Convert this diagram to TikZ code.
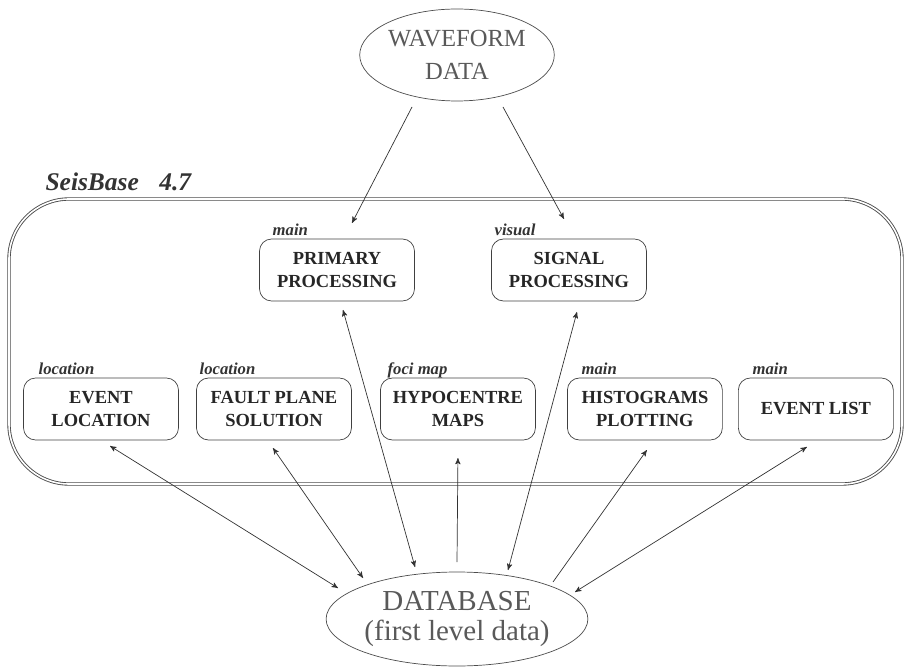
\documentclass[tikz,border=0pt]{standalone}
\usepackage{fontspec}
\setmainfont{Liberation Serif}
\usetikzlibrary{arrows,shapes,positioning,calc}

\begin{document}
\begin{tikzpicture}[->,>=stealth',semithick,auto,
x=0.02cm,y=-0.02cm,
node distance=3.46cm]

\tikzstyle{module}=[rectangle, rounded corners=0.24cm, minimum width=3.1cm, minimum height=1.24cm,
align=center, draw=black!75, thin, text=black!85, font=\fontsize{10.5}{13.5}\selectfont\bfseries]

\tikzstyle{store}=[ellipse, inner sep=0pt, align=center, draw=black!70, thin, text=black!65]

\tikzstyle{tag}=[anchor=base west, inner sep=0pt, text=black!80, font=\fontsize{9.5}{10}\selectfont\bfseries\itshape]

\tikzstyle{link}=[black!80, thin, shorten >=0pt]

\useasboundingbox (0,0) rectangle (905,668);

%outer frame
\draw[-, black!70, line width=0.5pt, double, double distance=0.9pt, rounded corners=1.2cm]
(9,199) rectangle (902,484);

\node[anchor=base west, inner sep=0pt, text=black!80, font=\fontsize{14.5}{15}\selectfont\bfseries\itshape]
(title) at (45,191)
{SeisBase\hspace{0.8em}4.7};

%data sources
\node[store, minimum width=3.88cm, minimum height=1.84cm, font=\fontsize{14}{18.5}\selectfont]
(wave) at (457,55)
{WAVEFORM\\DATA};

\node[store, minimum width=5.08cm, minimum height=1.88cm, font=\fontsize{16.5}{17.5}\selectfont]
(db) at (457,619)
{DATABASE\\(first level data)};

%upper row
\node[module]
(prim) at (337,270)
{PRIMARY\\PROCESSING};

\node[module, node distance=4.64cm]
(sig) [right of=prim]
{SIGNAL\\PROCESSING};

%lower row
\node[module]
(evloc) at (101,409)
{EVENT\\LOCATION};

\node[module]
(fault) [right of=evloc]
{FAULT PLANE\\SOLUTION};

\node[module, node distance=3.68cm]
(hypo) [right of=fault]
{HYPOCENTRE\\MAPS};

\node[module, node distance=3.74cm]
(hist) [right of=hypo]
{HISTOGRAMS\\PLOTTING};

\node[module, node distance=3.42cm]
(evlist) [right of=hist]
{EVENT LIST};

%program tags
\node[tag] (tprim) at ($(prim.north west)+(13,-3)$) {main};
\node[tag] (tsig) at ($(sig.north west)+(3,-3)$) {visual};
\node[tag] (tevloc) at ($(evloc.north west)+(15,-3)$) {location};
\node[tag] (tfault) at ($(fault.north west)+(3,-3)$) {location};
\node[tag] (thypo) at ($(hypo.north west)+(7,-3)$) {foci map};
\node[tag] (thist) at ($(hist.north west)+(14,-3)$) {main};
\node[tag] (tevlist) at ($(evlist.north west)+(14,-3)$) {main};

\path[link,->] ($(wave)+(-45,52)$) edge ($(prim)+(15,-47)$);
\path[link,->] ($(wave)+(46,52)$) edge ($(sig)+(-5,-51)$);
\path[link,<->] ($(prim)+(6,40)$) edge ($(db)+(-42,-52)$);
\path[link,<->] ($(sig)+(8,42)$) edge ($(db)+(51,-49)$);
\path[link,<->] ($(evloc)+(9,37)$) edge ($(db)+(-119,-31)$);
\path[link,<->] ($(fault)+(-1,39)$) edge ($(db)+(-94,-41)$);
\path[link,<-] ($(hypo)+(0,49)$) edge ($(db)+(0,-57)$);
\path[link,<-] ($(hist)+(2,41)$) edge ($(db)+(96,-37)$);
\path[link,<->] ($(evlist)+(-9,38)$) edge ($(db)+(118,-27)$);

\end{tikzpicture}
\end{document}
